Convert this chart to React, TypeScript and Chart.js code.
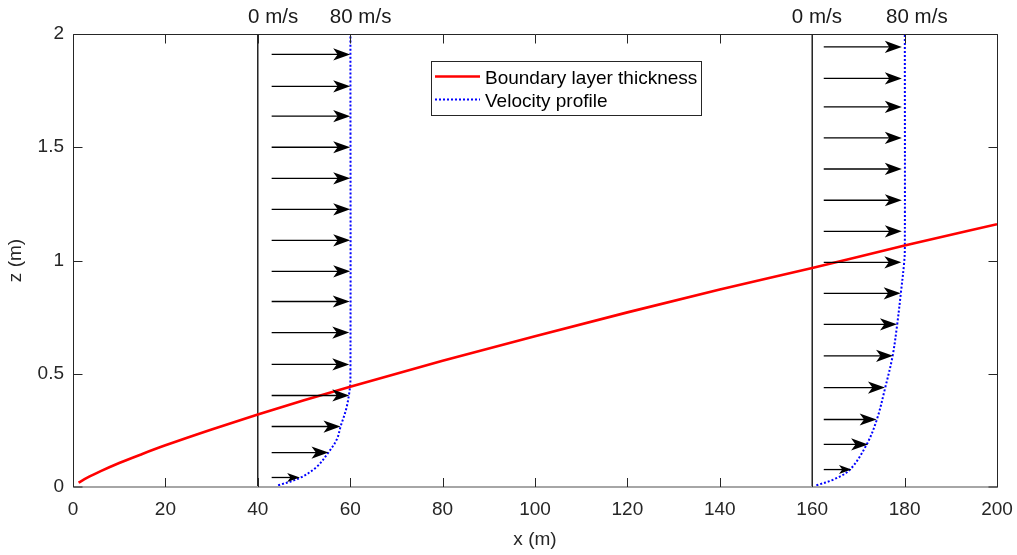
import React, { useEffect, useRef } from "react";
import { Chart, registerables } from "chart.js";

Chart.register(...registerables);

// ---- Data ----
const boundaryX = [1.2, 3, 6, 10, 15, 20, 30, 40, 50, 60, 80, 100, 120, 140, 160, 180, 200];
const boundaryZ = [0.019, 0.040, 0.070, 0.106, 0.146, 0.184, 0.254, 0.320, 0.383, 0.443, 0.557, 0.666, 0.771, 0.872, 0.967, 1.066, 1.160];

const profile1X = [44.4, 49.1, 52.75, 55.3, 57.1, 57.95, 59.1, 59.8, 60.05, 60.05];
const profile1Z = [0.007, 0.040, 0.089, 0.153, 0.210, 0.269, 0.342, 0.416, 0.475, 2.0];
const profile2X = [160.9, 164.6, 168.2, 171.8, 174.0, 175.8, 177.4, 178.4, 179.2, 179.9, 180.05, 180.05];
const profile2Z = [0.007, 0.033, 0.077, 0.188, 0.298, 0.438, 0.578, 0.718, 0.858, 0.990, 1.05, 2.0];

const stationX = [40, 160];
const stationZ = [0, 2];

const arrowBaseX = [43.0, 162.5];
const arrows1Z = [1.910, 1.769, 1.637, 1.500, 1.363, 1.226, 1.089, 0.952, 0.819, 0.682, 0.541, 0.404, 0.267, 0.152, 0.042];
const arrows1Tip = [60, 60, 60, 60, 60, 60, 60, 60, 59.9, 59.8, 59.8, 59.8, 57.9, 55.3, 49.1];
const arrows2Z = [1.943, 1.804, 1.678, 1.541, 1.404, 1.266, 1.129, 0.992, 0.855, 0.718, 0.579, 0.439, 0.298, 0.188, 0.077];
const arrows2Tip = [179.4, 179.4, 179.4, 179.4, 179.4, 179.4, 179.4, 179.3, 179.15, 178.35, 177.5, 175.75, 173.95, 172.1, 168.5];

const speedLabels = ["0 m/s", "80 m/s", "0 m/s", "80 m/s"];
const speedLabelX = [37.9, 55.6, 155.6, 176.0];
const speedLabelZ = 2.05;

const xTickValues = [0, 20, 40, 60, 80, 100, 120, 140, 160, 180, 200];
const yTickValues = [0, 0.5, 1, 1.5, 2];

const legendLabels = ["Boundary layer thickness", "Velocity profile"];

const FONT = "'Liberation Sans', Arial, Helvetica, sans-serif";
const AX = "#262626";

const pts = (xs: number[], ys: number[]) => xs.map((x, i) => ({ x, y: ys[i] }));

function drawArrow(ctx: CanvasRenderingContext2D, x0: number, x1: number, y: number) {
  const len = x1 - x0;
  const hl = Math.min(17, len * 0.45);
  const hw = hl * 0.36;
  ctx.beginPath();
  ctx.moveTo(x0, y);
  ctx.lineTo(x1 - hl * 0.6, y);
  ctx.stroke();
  ctx.beginPath();
  ctx.moveTo(x1, y);
  ctx.lineTo(x1 - hl, y - hw);
  ctx.lineTo(x1 - hl * 0.74, y);
  ctx.lineTo(x1 - hl, y + hw);
  ctx.closePath();
  ctx.fill();
}

const overlayPlugin = {
  id: "overlay",
  afterDatasetsDraw(chart: any) {
    const { ctx, chartArea: a, scales } = chart;
    const xs = scales.x;
    const ys = scales.y;
    ctx.save();

    // arrows
    ctx.strokeStyle = "#000";
    ctx.fillStyle = "#000";
    ctx.lineWidth = 1.3;
    const sets = [
      { base: arrowBaseX[0], z: arrows1Z, tip: arrows1Tip },
      { base: arrowBaseX[1], z: arrows2Z, tip: arrows2Tip },
    ];
    sets.forEach((s) => {
      s.z.forEach((z, i) => {
        const y = ys.getPixelForValue(z);
        drawArrow(ctx, xs.getPixelForValue(s.base), xs.getPixelForValue(s.tip[i]), y);
      });
    });

    // frame
    ctx.lineWidth = 1;
    ctx.strokeStyle = AX;
    const L = Math.round(a.left) + 0.5;
    const R = Math.round(a.right) + 0.5;
    const T = Math.round(a.top) + 0.5;
    const B = a.bottom;
    ctx.beginPath();
    ctx.moveTo(L, B);
    ctx.lineTo(L, T);
    ctx.lineTo(R, T);
    ctx.lineTo(R, B);
    ctx.stroke();
    ctx.strokeStyle = "#a6a6a6";
    ctx.lineWidth = 2;
    ctx.beginPath();
    ctx.moveTo(L - 0.5, B);
    ctx.lineTo(R + 0.5, B);
    ctx.stroke();

    // inward ticks on all four sides
    ctx.strokeStyle = AX;
    ctx.lineWidth = 1;
    const tl = 9;
    xTickValues.forEach((v) => {
      const px = Math.round(xs.getPixelForValue(v)) + 0.5;
      ctx.beginPath();
      ctx.moveTo(px, B);
      ctx.lineTo(px, B - tl);
      ctx.moveTo(px, T);
      ctx.lineTo(px, T + tl);
      ctx.stroke();
    });
    yTickValues.forEach((v) => {
      const py = Math.min(Math.round(ys.getPixelForValue(v)) + 0.5, B);
      ctx.beginPath();
      ctx.moveTo(L, py);
      ctx.lineTo(L + tl, py);
      ctx.moveTo(R, py);
      ctx.lineTo(R - tl, py);
      ctx.stroke();
    });

    // speed labels above the plot
    ctx.fillStyle = "#1a1a1a";
    ctx.font = `20.5px ${FONT}`;
    ctx.textAlign = "left";
    ctx.textBaseline = "alphabetic";
    speedLabels.forEach((t, i) => {
      ctx.fillText(t, xs.getPixelForValue(speedLabelX[i]), ys.getPixelForValue(speedLabelZ));
    });

    // legend
    const lx = a.left + 358;
    const ly = a.top + 26.5;
    const lw = 270;
    const lh = 54;
    ctx.fillStyle = "#fff";
    ctx.fillRect(lx, ly, lw, lh);
    ctx.strokeStyle = AX;
    ctx.lineWidth = 1;
    ctx.strokeRect(Math.round(lx) + 0.5, Math.round(ly) + 0.5, lw, lh);
    const ds = chart.data.datasets;
    [0, 1].forEach((k) => {
      const d = ds[k];
      const cy = ly + 16 + k * 23;
      ctx.strokeStyle = d.borderColor;
      ctx.lineWidth = d.borderWidth;
      ctx.setLineDash(d.borderDash || []);
      ctx.beginPath();
      ctx.moveTo(lx + 4, cy);
      ctx.lineTo(lx + 49, cy);
      ctx.stroke();
      ctx.setLineDash([]);
      ctx.fillStyle = "#000";
      ctx.font = `19px ${FONT}`;
      ctx.textBaseline = "alphabetic";
      ctx.fillText(legendLabels[k], lx + 54, cy + 7);
    });

    ctx.restore();
  },
};

export default function App() {
  const ref = useRef<HTMLCanvasElement>(null);
  useEffect(() => {
    const canvas = ref.current!;
    const font = { family: FONT, size: 19 };
    const chart = new Chart(canvas, {
      type: "scatter",
      data: {
        datasets: [
          {
            label: legendLabels[0],
            data: pts(boundaryX, boundaryZ),
            showLine: true,
            borderColor: "#ff0000",
            borderWidth: 2.6,
            pointRadius: 0,
            cubicInterpolationMode: "monotone",
          },
          {
            label: legendLabels[1],
            data: pts(profile1X, profile1Z),
            showLine: true,
            borderColor: "#0000ff",
            borderWidth: 2,
            borderDash: [2, 2],
            pointRadius: 0,
            tension: 0.35,
          },
          {
            label: legendLabels[1],
            data: pts(profile2X, profile2Z),
            showLine: true,
            borderColor: "#0000ff",
            borderWidth: 2,
            borderDash: [2, 2],
            pointRadius: 0,
            tension: 0.35,
          },
          {
            label: "station 1",
            data: pts([stationX[0], stationX[0]], stationZ),
            showLine: true,
            borderColor: "#000",
            borderWidth: 1.3,
            pointRadius: 0,
          },
          {
            label: "station 2",
            data: pts([stationX[1], stationX[1]], stationZ),
            showLine: true,
            borderColor: "#000",
            borderWidth: 1.3,
            pointRadius: 0,
          },
        ],
      } as any,
      options: {
        responsive: false,
        maintainAspectRatio: false,
        animation: false,
        layout: { padding: { top: 34, right: 20, left: 0, bottom: 0 } },
        plugins: { legend: { display: false }, tooltip: { enabled: false } },
        scales: {
          x: {
            type: "linear",
            min: 0,
            max: 200,
            afterFit: (s: any) => {
              s.height = 68;
              s.paddingLeft = 0;
              s.paddingRight = 0;
            },
            afterBuildTicks: (s: any) => {
              s.ticks = xTickValues.map((v) => ({ value: v }));
            },
            ticks: { font, color: AX, padding: 3, maxRotation: 0, autoSkip: false, callback: (v: any) => String(v) },
            grid: { display: false },
            border: { display: false },
            title: { display: true, text: "x (m)", font, color: AX, padding: { top: 0, bottom: 4 } },
          },
          y: {
            type: "linear",
            min: 0,
            max: 2,
            afterFit: (s: any) => {
              s.width = 73;
              s.paddingTop = 0;
              s.paddingBottom = 0;
            },
            afterBuildTicks: (s: any) => {
              s.ticks = yTickValues.map((v) => ({ value: v }));
            },
            ticks: { font, color: AX, padding: 1, callback: (v: any) => String(v) },
            grid: { display: false },
            border: { display: false },
            title: { display: true, text: "z (m)", font, color: AX, padding: { top: 4, bottom: 0 } },
          },
        },
      } as any,
      plugins: [overlayPlugin],
    });
    return () => chart.destroy();
  }, []);
  return (
    <div style={{ position: "absolute", left: 0, top: 0, width: 1017, height: 555, background: "#fff" }}>
      <canvas ref={ref} width={1017} height={555} style={{ display: "block" }} />
    </div>
  );
}
